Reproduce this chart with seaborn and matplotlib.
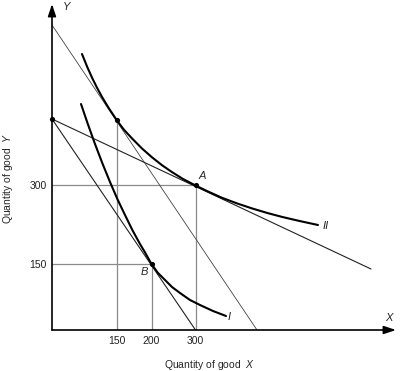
import numpy as np
import pandas as pd
import matplotlib
matplotlib.use('Agg')
import matplotlib.pyplot as plt
import seaborn as sns

sns.set_theme(style='white')
plt.rcParams['font.family'] = ['Liberation Sans', 'DejaVu Sans']
plt.rcParams['mathtext.fontset'] = 'custom'
plt.rcParams['mathtext.rm'] = 'Liberation Sans'
plt.rcParams['mathtext.it'] = 'Liberation Sans:italic'

# --- schematic coordinates (axis is not to scale) ---
# indifference curve II
curve2_x = [30, 35, 40, 45, 50, 57, 65, 72, 80, 90, 100, 110, 120, 131, 143.5, 156, 170, 185, 200, 215, 230, 248, 266]
curve2_y = [276, 263.6, 252.4, 242.3, 233.1, 221.5, 209.5, 200.2, 191.6, 181.5, 172.7, 164.8, 157.9, 151.0, 144.5, 138.5, 132.2, 126.6, 121.6, 117.1, 113.1, 108.9, 105]
# indifference curve I
curve1_x = [29, 36, 43, 50.5, 58, 65.5, 73, 80.5, 88, 93, 99.5, 106, 113, 120, 128, 138, 148, 161, 174]
curve1_y = [226, 205.5, 186, 166.4, 148, 130.7, 115, 99.7, 86, 77.6, 66, 57, 50, 43, 37, 30, 25, 19, 14]

# budget lines (start, end)
budget1_x = [0, 205]
budget1_y = [305, 0]
budget2_x = [0, 319]
budget2_y = [211, 61]
budget3_x = [0, 143.5]
budget3_y = [211, 0]

# marked points: tangency on II, A, B, intercept
pts_x = [65, 143.5, 99.5, 0]
pts_y = [210, 145, 66, 211]

xtick_pos = [65, 99.5, 143.5]
xtick_lab = ['150', '200', '300']
ytick_pos = [66, 145]
ytick_lab = ['150', '300']

fig = plt.figure(figsize=(4.01, 3.71), dpi=100)
ax = fig.add_axes([52 / 401, 41 / 371, 344 / 401, 326 / 371])
ax.set_xlim(0, 344)
ax.set_ylim(0, 326)
for s in ax.spines.values():
    s.set_visible(False)

grey = '#8a8a8a'
# guide lines to the axes
ax.plot([65, 65], [0, 210], color=grey, lw=0.9)
ax.plot([0, 143.5], [145, 145], color=grey, lw=0.9)
ax.plot([143.5, 143.5], [0, 145], color=grey, lw=0.9)
ax.plot([0, 99.5], [66, 66], color=grey, lw=0.9)
ax.plot([99.5, 99.5], [0, 66], color=grey, lw=0.9)

# budget lines
ax.plot(budget1_x, budget1_y, color='#444444', lw=0.6)
ax.plot(budget2_x, budget2_y, color='#222222', lw=0.8)
ax.plot(budget3_x, budget3_y, color='#222222', lw=0.8)

# indifference curves
c2 = pd.DataFrame({'x': curve2_x, 'y': curve2_y})
c1 = pd.DataFrame({'x': curve1_x, 'y': curve1_y})
sns.lineplot(data=c2, x='x', y='y', sort=False, color='black', lw=1.5,
             solid_joinstyle='round', solid_capstyle='round', ax=ax)
sns.lineplot(data=c1, x='x', y='y', sort=False, color='black', lw=1.5,
             solid_joinstyle='round', solid_capstyle='round', ax=ax)

sns.scatterplot(x=pts_x, y=pts_y, color='black', s=14, linewidth=0, ax=ax, clip_on=False, zorder=5)

# axes with arrows
ax.annotate('', xy=(344, 0), xytext=(0, 0), annotation_clip=False,
            arrowprops=dict(arrowstyle='-|>,head_length=0.6,head_width=0.2', color='black', lw=1.2, shrinkA=0, shrinkB=0))
ax.annotate('', xy=(0, 326), xytext=(0, 0), annotation_clip=False,
            arrowprops=dict(arrowstyle='-|>,head_length=0.6,head_width=0.2', color='black', lw=1.2, shrinkA=0, shrinkB=0))

ax.set_xticks(xtick_pos, xtick_lab)
ax.set_yticks(ytick_pos, ytick_lab)
ax.tick_params(length=0, labelsize=7.5, colors='#222222', pad=4)
ax.set_xlabel('')
ax.set_ylabel('')

ax.text(-44, 152, 'Quantity of good  $Y$', rotation=90, ha='center', va='center', fontsize=7.5)
ax.text(158, -35, 'Quantity of good  $X$', ha='center', va='center', fontsize=7.5)

it = dict(style='italic', fontsize=8, va='center')
ax.text(11, 323, 'Y', ha='left', **it)
ax.text(337, 12, 'X', ha='center', **it)
ax.text(147, 154, 'A', ha='left', **it)
ax.text(92, 58, 'B', ha='center', **it)
ax.text(271, 104, 'II', ha='left', **it)
ax.text(176, 13, 'I', ha='left', **it)

fig.savefig('out.png', dpi=100)
